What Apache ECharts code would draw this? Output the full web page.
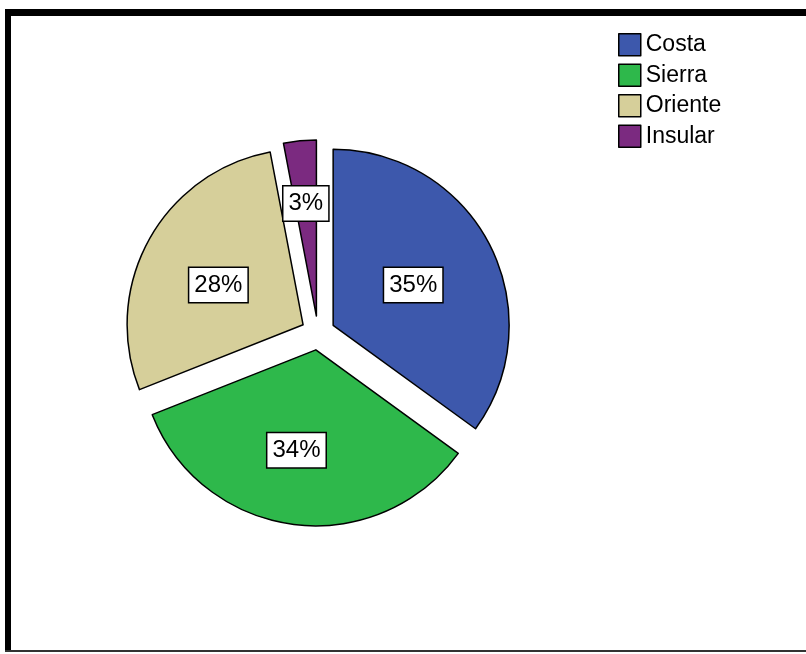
<!DOCTYPE html>
<html><head><meta charset="utf-8">
<script src="https://cdn.jsdelivr.net/npm/echarts@6/dist/echarts.min.js"></script>
<style>html,body{margin:0;padding:0;background:#fff}#c{width:806px;height:654px}</style>
</head><body><div id="c"></div>
<script>
const categories = ['Costa', 'Sierra', 'Oriente', 'Insular'];
const values = [35, 34, 28, 3];
const colors = ['#3d58ac', '#2eb84b', '#d6cf9a', '#7b2a80'];
const labelNudge = [[-1, 1], [-8, 10], [-5, 4], [-2, -22]];

const FONT = '"Liberation Sans", Arial, sans-serif';
const chart = echarts.init(document.getElementById('c'));
chart.setOption({
  animation: false,
  legend: {
    left: 613, top: 28, orient: 'vertical', itemWidth: 22, itemHeight: 22, itemGap: 7,
    icon: 'rect', selectedMode: false,
    itemStyle: { borderColor: '#000', borderWidth: 1.5 },
    textStyle: { fontFamily: FONT, fontSize: 23, lineHeight: 22, color: '#000', padding: [0, 0, 0, 0] }
  },
  graphic: [
    { type: 'rect', shape: { x: 5, y: 9, width: 801, height: 7 }, style: { fill: '#000' } },
    { type: 'rect', shape: { x: 5, y: 9, width: 6, height: 643 }, style: { fill: '#000' } },
    { type: 'rect', shape: { x: 5, y: 650, width: 801, height: 2 }, style: { fill: '#333' } }
  ],
  series: [{
    type: 'pie',
    center: [318, 333],
    radius: [0, 176],
    startAngle: 90,
    clockwise: true,
    selectedMode: 'multiple',
    selectedOffset: 17,
    avoidLabelOverlap: false,
    itemStyle: { borderColor: '#000', borderWidth: 1.5 },
    label: {
      show: true, position: 'inside',
      formatter: p => Math.round(p.percent) + '%',
      fontFamily: FONT, fontSize: 24, lineHeight: 28, color: '#000',
      backgroundColor: '#fff', borderColor: '#000', borderWidth: 1.5,
      padding: [4, 5, 2, 5]
    },
    labelLayout: p => ({ dx: labelNudge[p.dataIndex][0], dy: labelNudge[p.dataIndex][1] }),
    labelLine: { show: false },
    emphasis: { disabled: true },
    data: categories.map((n, i) => ({ name: n, value: values[i], selected: true, itemStyle: { color: colors[i] } }))
  }]
});
</script></body></html>
